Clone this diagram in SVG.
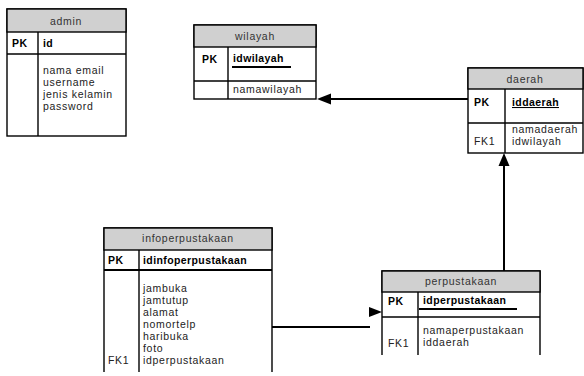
<svg xmlns="http://www.w3.org/2000/svg" width="584" height="376" viewBox="0 0 584 376">
<style>
.box{fill:#fff;stroke:#000;stroke-width:1.4}
.hd{fill:#d0d0d0;stroke:#000;stroke-width:1.4}
.ln{stroke:#000;stroke-width:1.4;fill:none}
.t{font-family:"Liberation Sans",Arial,sans-serif;font-size:10.5px;letter-spacing:0.7px;fill:#222}
.h{text-anchor:middle;fill:#333}
.b{font-weight:bold;fill:#000;letter-spacing:0.4px}
.c{stroke:#000;stroke-width:2;fill:none}
</style>
<rect width="584" height="376" fill="#fff"/>
<g id="admin">
<rect class="box" x="7" y="9" width="119" height="127"/>
<rect class="hd" x="7" y="9" width="119" height="23"/>
<line class="ln" x1="7" y1="54" x2="126" y2="54"/>
<line class="ln" x1="38" y1="32" x2="38" y2="136"/>
<text class="t h" x="66" y="25">admin</text>
<text class="t b" x="12" y="47">PK</text>
<text class="t b" x="43" y="47">id</text>
<text class="t" x="43" y="74">nama email</text>
<text class="t" x="43" y="86">username</text>
<text class="t" x="43" y="98">jenis kelamin</text>
<text class="t" x="43" y="110">password</text>
</g>
<g id="wilayah">
<rect class="box" x="194" y="25" width="122" height="74"/>
<rect class="hd" x="194" y="25" width="122" height="22"/>
<line class="ln" x1="194" y1="81" x2="316" y2="81"/>
<line class="ln" x1="228" y1="47" x2="228" y2="99"/>
<line x1="232" y1="67" x2="291" y2="67" stroke="#000" stroke-width="2"/>
<text class="t h" x="255" y="40">wilayah</text>
<text class="t b" x="202" y="63">PK</text>
<text class="t b" x="233" y="62">idwilayah</text>
<text class="t" x="233" y="93">namawilayah</text>
</g>
<g id="daerah">
<rect class="box" x="468" y="68" width="115" height="85"/>
<rect class="hd" x="468" y="68" width="115" height="21"/>
<line class="ln" x1="468" y1="123" x2="583" y2="123"/>
<line class="ln" x1="505" y1="89" x2="505" y2="153"/>
<text class="t h" x="525" y="83">daerah</text>
<text class="t b" x="474" y="106">PK</text>
<text class="t b" x="512" y="106" text-decoration="underline">iddaerah</text>
<text class="t" x="512" y="133">namadaerah</text>
<text class="t" x="474" y="145">FK1</text>
<text class="t" x="512" y="145">idwilayah</text>
</g>
<g id="perpustakaan">
<path class="ln" d="M382,355 V271 H540 V355"/>
<rect class="hd" x="382" y="271" width="158" height="21"/>
<line class="ln" x1="382" y1="317" x2="540" y2="317"/>
<line class="ln" x1="418" y1="292" x2="418" y2="355"/>
<line x1="419" y1="309" x2="517" y2="309" stroke="#000" stroke-width="2"/>
<text class="t h" x="461" y="285">perpustakaan</text>
<text class="t b" x="388" y="305">PK</text>
<text class="t b" x="423" y="304">idperpustakaan</text>
<text class="t" x="423" y="334">namaperpustakaan</text>
<text class="t" x="388" y="347">FK1</text>
<text class="t" x="423" y="346">iddaerah</text>
</g>
<g id="infoperpustakaan">
<path class="ln" d="M104,372 V228 H272 V372"/>
<rect class="hd" x="104" y="228" width="168" height="22"/>
<line x1="104" y1="270" x2="272" y2="270" stroke="#000" stroke-width="2"/>
<line class="ln" x1="139" y1="250" x2="139" y2="372"/>
<text class="t h" x="188" y="242">infoperpustakaan</text>
<text class="t b" x="108" y="264">PK</text>
<text class="t b" x="143" y="264">idinfoperpustakaan</text>
<text class="t" x="143" y="292">jambuka</text>
<text class="t" x="143" y="304">jamtutup</text>
<text class="t" x="143" y="316">alamat</text>
<text class="t" x="143" y="328">nomortelp</text>
<text class="t" x="143" y="340">haribuka</text>
<text class="t" x="143" y="352">foto</text>
<text class="t" x="108" y="364">FK1</text>
<text class="t" x="143" y="364">idperpustakaan</text>
</g>
<g id="connectors">
<line class="c" x1="468" y1="99" x2="329" y2="99"/>
<polygon points="317,99 331,93.5 331,104.5" fill="#000"/>
<line class="c" x1="504" y1="271" x2="504" y2="164"/>
<polygon points="504,153 498.5,166 509.5,166" fill="#000"/>
<line class="c" x1="272" y1="327" x2="370" y2="327"/>
<polygon points="382,312 369,307 369,317" fill="#000"/>
</g>
</svg>
